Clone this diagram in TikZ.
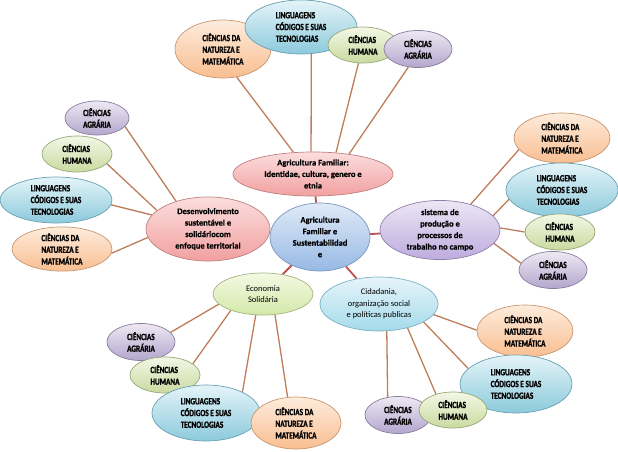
\documentclass[tikz,border=0pt]{standalone}
\usepackage{fontspec}
\setmainfont{Carlito}[BoldFeatures={FakeBold=0.6}]
\newfontfamily\rotulo[FakeStretch=0.76, BoldFeatures={FakeBold=1.2}]{Carlito}
\usetikzlibrary{shapes.geometric}
\pgfdeclarelayer{fundo}
\pgfsetlayers{fundo,main}
\definecolor{galhocor}{RGB}{190,125,90}
\definecolor{elocor}{RGB}{192,80,77}

\begin{document}
\begin{tikzpicture}[x=1pt,y=-1pt,
    folha/.style={ellipse, draw, line width=0.7pt, inner sep=0pt, align=left,
        font=\rotulo\bfseries\fontsize{9.5}{11.7}\selectfont},
    natureza/.style={folha, top color={rgb,255:red,253;green,236;blue,220},
        bottom color={rgb,255:red,249;green,190;blue,145}, draw={rgb,255:red,200;green,150;blue,112},
        minimum width=96pt, minimum height=52pt},
    linguagens/.style={folha, top color={rgb,255:red,228;green,244;blue,248},
        bottom color={rgb,255:red,140;green,202;blue,220}, draw={rgb,255:red,105;green,160;blue,178},
        minimum width=112pt, minimum height=54pt},
    humana/.style={folha, top color={rgb,255:red,243;green,247;blue,230},
        bottom color={rgb,255:red,202;green,218;blue,160}, draw={rgb,255:red,150;green,168;blue,118},
        minimum width=70pt, minimum height=36pt},
    agraria/.style={folha, top color={rgb,255:red,237;green,233;blue,243},
        bottom color={rgb,255:red,180;green,166;blue,205}, draw={rgb,255:red,138;green,125;blue,160},
        minimum width=68pt, minimum height=37pt},
    tema/.style={ellipse, draw, line width=0.7pt, inner sep=0pt, align=center,
        font=\bfseries\fontsize{8.5}{11.5}\selectfont},
    rosa/.style={tema, top color={rgb,255:red,251;green,222;blue,222},
        bottom color={rgb,255:red,242;green,160;blue,160}, draw={rgb,255:red,192;green,128;blue,128}},
    galho/.style={draw=galhocor, line width=1.3pt},
    elo/.style={draw=elocor, line width=1.8pt}]

\useasboundingbox (0,0) rectangle (618,452);

% temas
\node[rosa, minimum width=160pt, minimum height=44pt] (ident) at (313,174)
    {Agricultura Familiar:\\Identidae, cultura, genero e\\etnia};
\node[tema, top color={rgb,255:red,224;green,234;blue,247}, bottom color={rgb,255:red,150;green,185;blue,228},
    draw={rgb,255:red,120;green,150;blue,190}, minimum width=100pt, minimum height=68pt] (centro) at (320,237)
    {Agricultura\\Familiar e\\Sustentabilidad\\e};
\node[rosa, minimum width=124pt, minimum height=64pt] (desenv) at (208,229)
    {Desenvolvimento\\sustentável e\\solidáriocom\\enfoque territorial};
\node[tema, top color={rgb,255:red,236;green,230;blue,245}, bottom color={rgb,255:red,190;green,172;blue,222},
    draw={rgb,255:red,143;green,128;blue,168}, minimum width=120pt, minimum height=54pt] (sistema) at (440,230)
    {sistema de\\produção e\\processos de\\trabalho no campo};
\node[tema, font=\fontsize{8.5}{11.5}\selectfont, top color={rgb,255:red,243;green,249;blue,228},
    bottom color={rgb,255:red,212;green,232;blue,168}, draw={rgb,255:red,163;green,180;blue,128},
    minimum width=100pt, minimum height=42pt] (economia) at (263,294) {Economia\\Solidária};
\node[tema, font=\fontsize{8.5}{11.5}\selectfont, top color={rgb,255:red,230;green,245;blue,250},
    bottom color={rgb,255:red,165;green,218;blue,235}, draw={rgb,255:red,125;green,175;blue,192},
    minimum width=118pt, minimum height=54pt] (cidadania) at (379,304)
    {Cidadania,\\organização social\\e políticas publicas};

% em cima
\node[natureza, minimum height=58pt] (natT) at (223,49) {CIÊNCIAS DA\\NATUREZA E\\MATEMÁTICA};
\node[linguagens] (lingT) at (301,27) {LINGUAGENS\\CÓDIGOS E SUAS\\TECNOLOGIAS};
\node[humana] (humT) at (363,45) {CIÊNCIAS\\HUMANA};
\node[agraria] (agrT) at (418,49) {CIÊNCIAS\\AGRÁRIA};

% esquerda
\node[agraria, minimum width=64pt, minimum height=34pt] (agrL) at (97,118) {CIÊNCIAS\\AGRÁRIA};
\node[humana] (humL) at (77,154) {CIÊNCIAS\\HUMANA};
\node[linguagens, minimum height=46pt] (lingL) at (56,200) {LINGUAGENS\\CÓDIGOS E SUAS\\TECNOLOGIAS};
\node[natureza, minimum width=100pt, minimum height=44pt] (natL) at (62,249) {CIÊNCIAS DA\\NATUREZA E\\MATEMÁTICA};

% direita
\node[natureza, minimum height=50pt] (natR) at (562,138) {CIÊNCIAS DA\\NATUREZA E\\MATEMÁTICA};
\node[linguagens] (lingR) at (562,190) {LINGUAGENS\\CÓDIGOS E SUAS\\TECNOLOGIAS};
\node[humana] (humR) at (560,232) {CIÊNCIAS\\HUMANA};
\node[agraria] (agrR) at (553,270) {CIÊNCIAS\\AGRÁRIA};

% embaixo, esquerda
\node[agraria] (agrBL) at (141,342) {CIÊNCIAS\\AGRÁRIA};
\node[humana] (humBL) at (165,375) {CIÊNCIAS\\HUMANA};
\node[linguagens, minimum width=108pt, minimum height=56pt] (lingBL) at (206,413) {LINGUAGENS\\CÓDIGOS E SUAS\\TECNOLOGIAS};
\node[natureza, minimum width=90pt] (natBL) at (296,423) {CIÊNCIAS DA\\NATUREZA E\\MATEMÁTICA};

% embaixo, direita
\node[natureza] (natBR) at (525,331) {CIÊNCIAS DA\\NATUREZA E\\MATEMÁTICA};
\node[linguagens, minimum height=58pt] (lingBR) at (516,384) {LINGUAGENS\\CÓDIGOS E SUAS\\TECNOLOGIAS};
\node[agraria, minimum width=66pt] (agrBR) at (398,415) {CIÊNCIAS\\AGRÁRIA};
\node[humana, minimum width=68pt] (humBR) at (453,410) {CIÊNCIAS\\HUMANA};

\begin{pgfonlayer}{fundo}
    \foreach \tema in {ident, desenv, sistema, economia, cidadania}
        \draw[elo] (centro) -- (\tema);
    \foreach \folha/\de/\para in {natT/-64/132, lingT/-69/95, humT/-104/43, agrT/-118/29}
        \draw[galho] (\folha.\de) -- (ident.\para);
    \foreach \folha/\de/\para in {agrL/-17/139, humL/-18/160, lingL/-5/166, natL/-5/188}
        \draw[galho] (\folha.\de) -- (desenv.\para);
    \foreach \folha/\de/\para in {natR/-165/40, lingR/190/15, humR/180/2, agrR/168/-14}
        \draw[galho] (\folha.\de) -- (sistema.\para);
    \foreach \folha/\de/\para in {agrBL/18/-167, humBL/22/-153, lingBL/30/-109, natBL/108/-60}
        \draw[galho] (\folha.\de) -- (economia.\para);
    \foreach \folha/\de/\para in {natBR/179/-11, lingBR/162/-22, humBR/137/-40, agrBR/120/-74}
        \draw[galho] (\folha.\de) -- (cidadania.\para);
\end{pgfonlayer}
\end{tikzpicture}
\end{document}
